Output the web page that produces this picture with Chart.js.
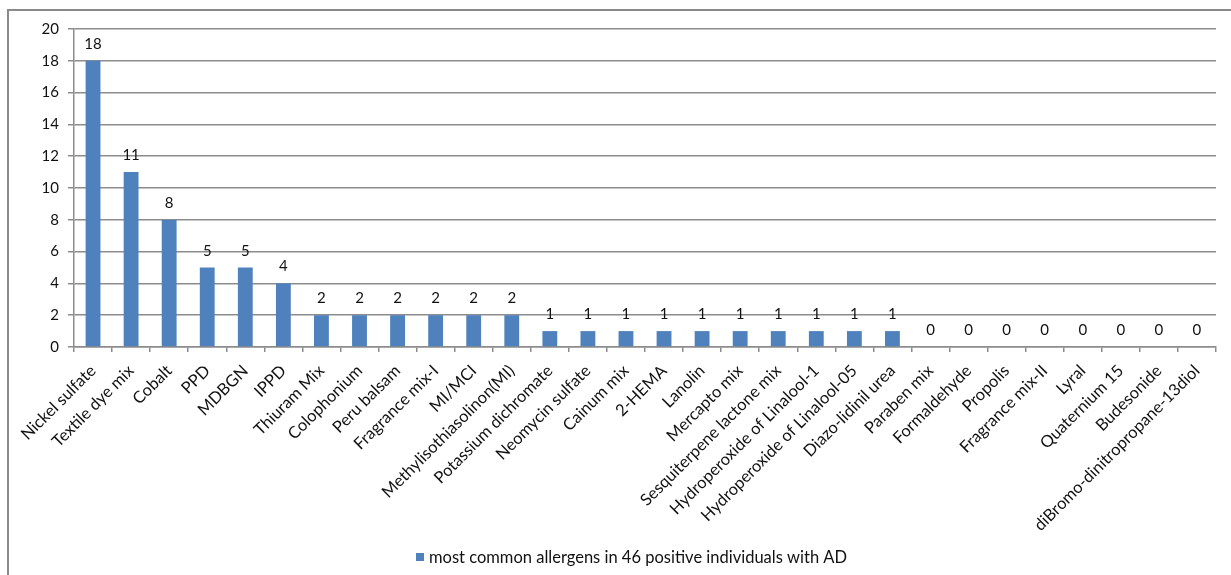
<!DOCTYPE html>
<html>
<head>
<meta charset="utf-8">
<script src="https://cdn.jsdelivr.net/npm/chart.js@4/dist/chart.umd.min.js"></script>
<style>
  html, body { margin: 0; padding: 0; background: #ffffff; }
  #wrap { width: 1231px; height: 575px; }
</style>
</head>
<body>
<div id="wrap"><canvas id="chart" width="1231" height="575"></canvas></div>
<script>
// Allergens found in patch tests, in descending order of positives
const allergens = [
  'Nickel sulfate', 'Textile dye mix', 'Cobalt', 'PPD', 'MDBGN', 'IPPD',
  'Thiuram Mix', 'Colophonium', 'Peru balsam', 'Fragrance mix-I', 'MI/MCI',
  'Methylisothiasolinon(MI)', 'Potassium dichromate', 'Neomycin sulfate',
  'Cainum mix', '2-HEMA', 'Lanolin', 'Mercapto mix', 'Sesquiterpene lactone mix',
  'Hydroperoxide of Linalool-1', 'Hydroperoxide of Linalool-05', 'Diazo-lidinil urea',
  'Paraben mix', 'Formaldehyde', 'Propolis', 'Fragrance mix-II', 'Lyral',
  'Quaternium 15', 'Budesonide', 'diBromo-dinitropropane-13diol'
];
const positives = [18, 11, 8, 5, 5, 4, 2, 2, 2, 2, 2, 2, 1, 1, 1, 1, 1, 1, 1, 1, 1, 1, 0, 0, 0, 0, 0, 0, 0, 0];
const seriesName = 'most common allergens in 46 positive individuals with AD';
const yMin = 0, yMax = 20, yStep = 2;

const BAR_BLUE = '#4F81BD';
const GRID_GREY = '#8c8c8c';
const TEXT = '#111111';
const FONT = 'Lato, "Open Sans", "DejaVu Sans", sans-serif';

// Frame around the whole chart
const framePlugin = {
  id: 'frame',
  beforeDraw(chart) {
    const ctx = chart.ctx;
    ctx.save();
    ctx.fillStyle = '#ffffff';
    ctx.fillRect(0, 0, chart.width, chart.height);
    ctx.strokeStyle = '#8a8a8a';
    ctx.lineWidth = 2;
    ctx.strokeRect(8, 10, chart.width + 20, chart.height + 20);
    ctx.restore();
  }
};

// Value printed above each bar
const valueLabels = {
  id: 'valueLabels',
  afterDatasetsDraw(chart) {
    const ctx = chart.ctx;
    const meta = chart.getDatasetMeta(0);
    const values = chart.data.datasets[0].data;
    ctx.save();
    ctx.font = '15px ' + FONT;
    ctx.fillStyle = TEXT;
    ctx.textAlign = 'center';
    ctx.textBaseline = 'alphabetic';
    meta.data.forEach((bar, i) => {
      ctx.fillText(String(values[i]), bar.x, bar.y - 12);
    });
    ctx.restore();
  }
};

// Single-entry legend under the axis labels
const bottomLegend = {
  id: 'bottomLegend',
  afterDraw(chart) {
    const ctx = chart.ctx;
    const ds = chart.data.datasets[0];
    ctx.save();
    ctx.font = '16.5px ' + FONT;
    const textW = ctx.measureText(ds.label).width;
    const box = 8, gap = 5;
    const total = box + gap + textW;
    const cx = 632, cy = 557;
    const x0 = Math.round(cx - total / 2);
    ctx.fillStyle = ds.backgroundColor;
    ctx.fillRect(x0, cy - box / 2, box, box);
    ctx.fillStyle = TEXT;
    ctx.textAlign = 'left';
    ctx.textBaseline = 'middle';
    ctx.fillText(ds.label, x0 + box + gap, cy + 1);
    ctx.restore();
  }
};

new Chart(document.getElementById('chart'), {
  type: 'bar',
  data: {
    labels: allergens,
    datasets: [{
      label: seriesName,
      data: positives,
      backgroundColor: BAR_BLUE,
      borderWidth: 0,
      categoryPercentage: 1.0,
      barPercentage: 0.39
    }]
  },
  options: {
    responsive: false,
    animation: false,
    devicePixelRatio: 1,
    layout: { padding: { top: 29, right: 15, left: 0, bottom: 0 } },
    plugins: {
      legend: { display: false },
      tooltip: { enabled: false }
    },
    scales: {
      x: {
        grid: {
          display: true,
          drawOnChartArea: false,
          drawTicks: true,
          tickLength: 5,
          color: GRID_GREY,
          lineWidth: 1.5,
          offset: true
        },
        border: { display: true, color: GRID_GREY, width: 1.5 },
        ticks: {
          autoSkip: false,
          minRotation: 45,
          maxRotation: 45,
          padding: 9,
          color: TEXT,
          font: { family: FONT, size: 16.5 }
        },
        afterFit(scale) { scale.height = 575 - 347; }
      },
      y: {
        min: yMin,
        max: yMax,
        grid: {
          color: GRID_GREY,
          lineWidth: 1.5,
          drawTicks: true,
          tickLength: 6
        },
        border: { display: true, color: GRID_GREY, width: 1.5 },
        ticks: {
          stepSize: yStep,
          padding: 9,
          color: TEXT,
          font: { family: FONT, size: 15 }
        },
        afterFit(scale) { scale.width = 74; }
      }
    }
  },
  plugins: [framePlugin, valueLabels, bottomLegend]
});
</script>
</body>
</html>
